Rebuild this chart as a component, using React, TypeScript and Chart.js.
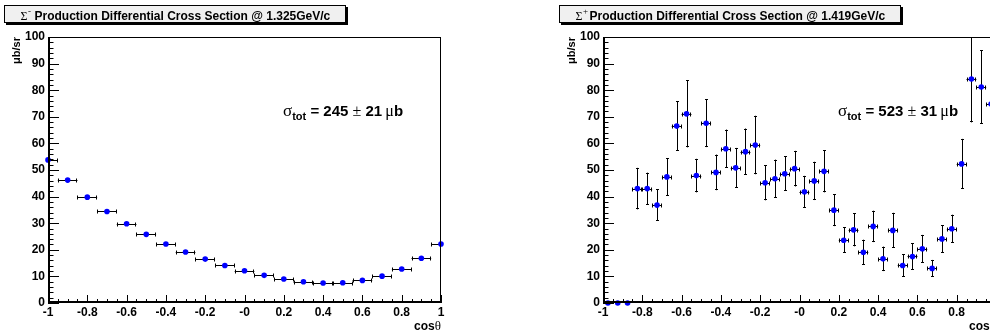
import React, { useEffect, useRef } from 'react';
import { Chart, registerables } from 'chart.js';

Chart.register(...registerables);

// ---------- data ----------
const xTickLabels = ['-1', '-0.8', '-0.6', '-0.4', '-0.2', '-0', '0.2', '0.4', '0.6', '0.8', '1'];

// Left panel: Sigma- at 1.325 GeV/c
const leftCos = [-1, -0.9, -0.8, -0.7, -0.6, -0.5, -0.4, -0.3, -0.2, -0.1, 0, 0.1, 0.2, 0.3, 0.4, 0.5, 0.6, 0.7, 0.8, 0.9, 1];
const leftXsec = [53.8, 46.2, 39.8, 34.4, 29.8, 25.8, 22.2, 19.2, 16.5, 14.1, 12.1, 10.4, 9.0, 8.0, 7.5, 7.6, 8.5, 10.1, 12.8, 16.8, 22.2];
const leftXErr = [0.05, 0.05, 0.05, 0.05, 0.05, 0.05, 0.05, 0.05, 0.05, 0.05, 0.05, 0.05, 0.05, 0.05, 0.05, 0.05, 0.05, 0.05, 0.05, 0.05, 0.05];
const leftYErr = [0, 0, 0, 0, 0, 0, 0, 0, 0, 0, 0, 0, 0, 0, 0, 0, 0, 0, 0, 0, 0];

// Right panel: Sigma+ at 1.419 GeV/c
const rightCos = [
  -0.975, -0.925, -0.875, -0.825, -0.775, -0.725, -0.675, -0.625, -0.575, -0.525,
  -0.475, -0.425, -0.375, -0.325, -0.275, -0.225, -0.175, -0.125, -0.075, -0.025,
  0.025, 0.075, 0.125, 0.175, 0.225, 0.275, 0.325, 0.375, 0.425, 0.475,
  0.525, 0.575, 0.625, 0.675, 0.725, 0.775, 0.825, 0.875, 0.925, 0.975,
];
const rightXsec = [
  0, 0, 0, 43.0, 43.0, 36.8, 47.4, 66.5, 71.1, 47.9,
  67.6, 49.1, 58.0, 50.8, 56.9, 59.4, 45.2, 46.7, 48.6, 50.5,
  41.8, 45.9, 49.5, 34.9, 23.6, 27.5, 19.1, 28.8, 16.6, 27.3,
  14.1, 17.5, 20.4, 13.0, 24.1, 27.9, 52.3, 84.2, 81.2, 74.8,
];
const rightXErr = [
  0, 0, 0, 0.025, 0.025, 0.025, 0.025, 0.025, 0.025, 0.025,
  0.025, 0.025, 0.025, 0.025, 0.025, 0.025, 0.025, 0.025, 0.025, 0.025,
  0.025, 0.025, 0.025, 0.025, 0.025, 0.025, 0.025, 0.025, 0.025, 0.025,
  0.025, 0.025, 0.025, 0.025, 0.025, 0.025, 0.025, 0.025, 0.025, 0.025,
];
const rightYErr = [
  0, 0, 0, 7.8, 6.0, 5.9, 7.0, 9.3, 12.6, 6.3,
  9.0, 6.7, 7.2, 7.5, 8.7, 11.0, 6.6, 7.2, 6.5, 6.7,
  6.0, 7.2, 7.9, 6.0, 4.8, 6.2, 4.7, 5.9, 4.6, 6.6,
  4.3, 5.0, 5.2, 3.2, 5.2, 5.3, 9.4, 16.3, 13.8, 10.3,
];

// ---------- drawing ----------
const SANS = '"Liberation Sans", Arial, Helvetica, sans-serif';
const SERIF = '"Liberation Serif", "DejaVu Serif", serif';

type PanelProps = {
  cos: number[];
  xsec: number[];
  xErr: number[];
  yErr: number[];
  particleSup: string;
  momentum: string;
  total: string;
  totalErr: string;
  left: number;
};

function makePlugin(p: PanelProps) {
  return {
    id: 'rootStyle',
    beforeDatasetsDraw(chart: any) {
      const { ctx, chartArea } = chart;
      const xs = chart.scales.x;
      const ys = chart.scales.y;
      ctx.save();
      ctx.beginPath();
      ctx.rect(chartArea.left, chartArea.top, chartArea.right - chartArea.left, chartArea.bottom - chartArea.top);
      ctx.clip();
      ctx.strokeStyle = '#000';
      ctx.lineWidth = 1;
      for (let i = 0; i < p.cos.length; i++) {
        const cx = xs.getPixelForValue(p.cos[i]);
        const cy = ys.getPixelForValue(p.xsec[i]);
        const rx = Math.round(cx) + 0.5;
        const ry = Math.round(cy) + 0.5;
        if (p.xErr[i] > 0) {
          const x1 = xs.getPixelForValue(p.cos[i] - p.xErr[i]);
          const x2 = xs.getPixelForValue(p.cos[i] + p.xErr[i]);
          ctx.beginPath();
          ctx.moveTo(x1, ry);
          ctx.lineTo(x2, ry);
          ctx.moveTo(Math.round(x1) + 0.5, ry - 2);
          ctx.lineTo(Math.round(x1) + 0.5, ry + 2);
          ctx.moveTo(Math.round(x2) - 0.5, ry - 2);
          ctx.lineTo(Math.round(x2) - 0.5, ry + 2);
          ctx.stroke();
        }
        if (p.yErr[i] > 0) {
          const y1 = ys.getPixelForValue(p.xsec[i] - p.yErr[i]);
          const y2 = ys.getPixelForValue(p.xsec[i] + p.yErr[i]);
          ctx.beginPath();
          ctx.moveTo(rx, y1);
          ctx.lineTo(rx, y2);
          ctx.moveTo(rx - 1.5, Math.round(y1) - 0.5);
          ctx.lineTo(rx + 1.5, Math.round(y1) - 0.5);
          ctx.moveTo(rx - 1.5, Math.round(y2) + 0.5);
          ctx.lineTo(rx + 1.5, Math.round(y2) + 0.5);
          ctx.stroke();
        }
      }
      ctx.restore();
    },
    afterDraw(chart: any) {
      const { ctx, chartArea } = chart;
      const xs = chart.scales.x;
      const ys = chart.scales.y;
      const L = chartArea.left, R = chartArea.right, T = chartArea.top, B = chartArea.bottom;
      ctx.save();
      ctx.strokeStyle = '#000';
      // frame
      ctx.lineWidth = 1;
      ctx.strokeRect(L + 0.5, T + 0.5, R - L - 1, B - T - 1);
      ctx.lineWidth = 2;
      ctx.beginPath();
      ctx.moveTo(L + 1, T);
      ctx.lineTo(L + 1, B);
      ctx.moveTo(L, B - 1);
      ctx.lineTo(R, B - 1);
      ctx.stroke();

      // ticks
      ctx.lineWidth = 1;
      ctx.beginPath();
      const xt = xs.ticks.map((t: any) => t.value);
      for (let i = 0; i < xt.length; i++) {
        const px = Math.round(xs.getPixelForValue(xt[i])) + 0.5;
        ctx.moveTo(px, B);
        ctx.lineTo(px, B - 8);
        if (i < xt.length - 1) {
          for (let k = 1; k < 4; k++) {
            const v = xt[i] + ((xt[i + 1] - xt[i]) * k) / 4;
            const mx = Math.round(xs.getPixelForValue(v)) + 0.5;
            ctx.moveTo(mx, B);
            ctx.lineTo(mx, B - 4);
          }
        }
      }
      const yt = ys.ticks.map((t: any) => t.value);
      for (let i = 0; i < yt.length; i++) {
        const py = Math.round(ys.getPixelForValue(yt[i])) + 0.5;
        ctx.moveTo(L, py);
        ctx.lineTo(L + 11, py);
        if (i < yt.length - 1) {
          for (let k = 1; k < 5; k++) {
            const v = yt[i] + ((yt[i + 1] - yt[i]) * k) / 5;
            const my = Math.round(ys.getPixelForValue(v)) + 0.5;
            ctx.moveTo(L, my);
            ctx.lineTo(L + 5.5, my);
          }
        }
      }
      ctx.stroke();

      // title box
      ctx.fillStyle = '#000';
      ctx.fillRect(6, 7, 342, 18);
      ctx.fillStyle = '#f0f0f0';
      ctx.fillRect(4, 5, 342, 18);
      ctx.lineWidth = 1;
      ctx.strokeRect(4.5, 5.5, 341, 17);
      ctx.fillStyle = '#000';
      ctx.textBaseline = 'alphabetic';
      ctx.textAlign = 'left';
      let tx = 20.5;
      ctx.font = `12px ${SERIF}`;
      ctx.fillText('Σ', tx, 19.5);
      tx += ctx.measureText('Σ').width + 0.5;
      ctx.font = `9px ${SERIF}`;
      ctx.fillText(p.particleSup, tx, 14);
      ctx.font = `bold 12px ${SANS}`;
      ctx.fillText(`Production Differential Cross Section @ ${p.momentum}GeV/c`, 34.5, 20);

      // total cross-section annotation
      let ax = 283;
      const base = 116;
      ctx.font = `17px ${SERIF}`;
      ctx.fillText('σ', ax, base);
      ax += ctx.measureText('σ').width;
      ctx.font = `bold 11px ${SANS}`;
      ctx.fillText('tot', ax, base + 4);
      ax += ctx.measureText('tot').width;
      ctx.font = `bold 15px ${SANS}`;
      const s1 = ` = ${p.total} `;
      ctx.fillText(s1, ax, base);
      ax += ctx.measureText(s1).width;
      ctx.font = `16px ${SERIF}`;
      ctx.fillText('±', ax, base);
      ax += ctx.measureText('±').width;
      ctx.font = `bold 15px ${SANS}`;
      const s2 = ` ${p.totalErr} `;
      ctx.fillText(s2, ax, base);
      ax += ctx.measureText(s2).width - 1;
      ctx.font = `16px ${SERIF}`;
      ctx.fillText('μ', ax, base);
      ax += ctx.measureText('μ').width;
      ctx.font = `bold 15px ${SANS}`;
      ctx.fillText('b', ax, base);

      // y axis title
      ctx.save();
      ctx.translate(20, 37);
      ctx.rotate(-Math.PI / 2);
      ctx.textAlign = 'right';
      ctx.font = `bold 11px ${SANS}`;
      ctx.fillText('μb/sr', 0, 0);
      ctx.restore();

      // x axis title
      ctx.textAlign = 'left';
      ctx.font = `13px ${SERIF}`;
      const thW = ctx.measureText('θ').width;
      ctx.font = `bold 12px ${SANS}`;
      const cosW = ctx.measureText('cos').width;
      const startX = R - thW - cosW;
      ctx.fillText('cos', startX, 330);
      ctx.font = `13px ${SERIF}`;
      ctx.fillText('θ', startX + cosW, 330);
      ctx.restore();
    },
  };
}

function Panel(props: PanelProps) {
  const ref = useRef<HTMLCanvasElement | null>(null);
  useEffect(() => {
    if (!ref.current) return;
    const chart = new Chart(ref.current, {
      type: 'scatter',
      data: {
        datasets: [
          {
            data: props.cos.map((c, i) => ({ x: c, y: props.xsec[i] })),
            pointRadius: 2.8,
            pointHoverRadius: 2.8,
            backgroundColor: '#0000ff',
            borderWidth: 0,
            pointBorderWidth: 0,
            clip: false,
          },
        ],
      },
      options: {
        responsive: false,
        animation: false,
        events: [],
        layout: { padding: { top: 37, right: 54, left: 0, bottom: 0 } },
        plugins: { legend: { display: false }, tooltip: { enabled: false }, title: { display: false } },
        scales: {
          x: {
            type: 'linear',
            min: -1,
            max: 1,
            grid: { display: false, drawTicks: false },
            border: { display: false },
            afterFit: (s: any) => { s.height = 29; },
            ticks: {
              stepSize: 0.2,
              autoSkip: false,
              maxRotation: 0,
              minRotation: 0,
              padding: 2,
              color: '#000',
              font: { family: SANS, size: 12, weight: 'bold' },
              callback: (_v: any, i: number) => xTickLabels[i],
            },
          },
          y: {
            type: 'linear',
            min: 0,
            max: 100,
            grid: { display: false, drawTicks: false },
            border: { display: false },
            afterFit: (s: any) => { s.width = 48; },
            ticks: {
              stepSize: 10,
              padding: 3,
              color: '#000',
              font: { family: SANS, size: 12, weight: 'bold' },
            },
          },
        },
      } as any,
      plugins: [makePlugin(props)],
    });
    return () => chart.destroy();
  }, []);
  return (
    <canvas
      ref={ref}
      width={495}
      height={332}
      style={{ position: 'absolute', left: props.left, top: 0, width: 495, height: 332, display: 'block' }}
    />
  );
}

export default function App() {
  return (
    <div
      style={{
        position: 'absolute',
        left: 0,
        top: 0,
        width: 990,
        height: 332,
        overflow: 'hidden',
        background: '#fff',
      }}
    >
      <Panel cos={leftCos} xsec={leftXsec} xErr={leftXErr} yErr={leftYErr} particleSup="-" momentum="1.325" total="245" totalErr="21" left={0} />
      <Panel cos={rightCos} xsec={rightXsec} xErr={rightXErr} yErr={rightYErr} particleSup="+" momentum="1.419" total="523" totalErr="31" left={555} />
    </div>
  );
}
